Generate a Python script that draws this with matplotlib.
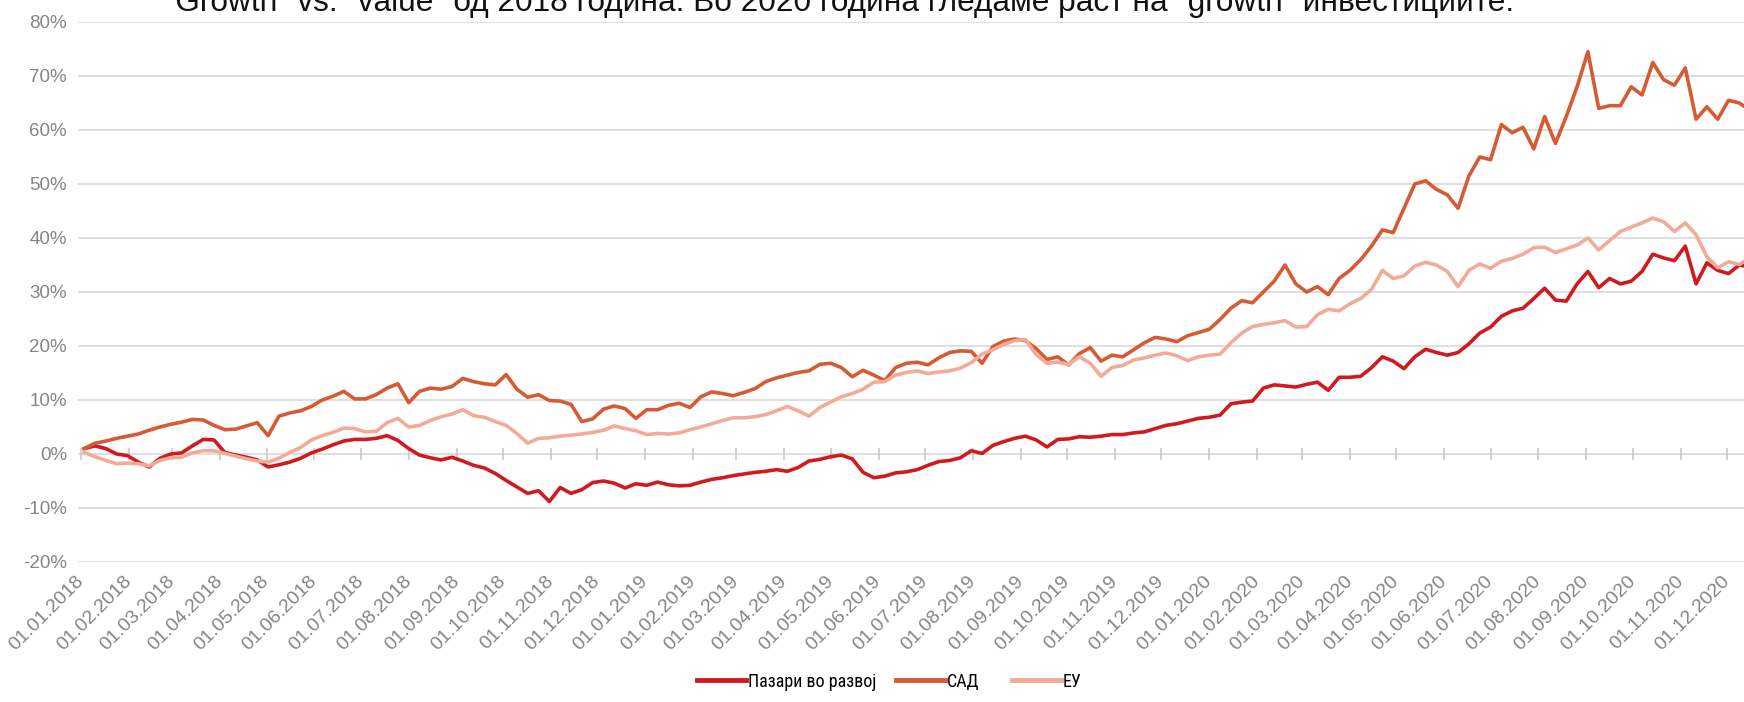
import matplotlib
matplotlib.use("Agg")
import matplotlib.pyplot as plt
from matplotlib import font_manager
from matplotlib.lines import Line2D
import numpy as np
import pandas as pd

plt.rcParams['font.family'] = ['Liberation Sans', 'DejaVu Sans']

title = '"Growth" vs. "value" од 2018 година. Во 2020 година гледаме раст на "growth" инвестициите.'
series_names = ['Пазари во развој', 'САД', 'ЕУ']
series_colors = ['#d11a1f', '#d65a33', '#f2ab97']

# weekly cumulative return (%) from the first week of 2018
first_week = '2018-01-03'
emerging = [
    1.0, 1.5, 1.0, 0.0, -0.3, -1.5, -2.4, -0.8, 0.0, 0.2,
    1.5, 2.7, 2.6, 0.3, -0.2, -0.6, -1.1, -2.4, -2.0, -1.5,
    -0.8, 0.2, 0.9, 1.7, 2.4, 2.7, 2.7, 2.9, 3.4, 2.5,
    1.0, -0.2, -0.7, -1.1, -0.6, -1.3, -2.1, -2.6, -3.6, -4.9,
    -6.1, -7.3, -6.8, -8.8, -6.2, -7.3, -6.6, -5.3, -5.0, -5.4,
    -6.3, -5.5, -5.8, -5.2, -5.7, -5.9, -5.8, -5.2, -4.7, -4.4,
    -4.0, -3.7, -3.4, -3.2, -2.9, -3.2, -2.5, -1.3, -1.0, -0.5,
    -0.2, -0.9, -3.4, -4.4, -4.1, -3.5, -3.3, -2.9, -2.1, -1.4,
    -1.2, -0.7, 0.6, 0.1, 1.6, 2.3, 2.9, 3.3, 2.6, 1.3,
    2.7, 2.8, 3.2, 3.1, 3.3, 3.6, 3.6, 3.9, 4.1, 4.7,
    5.3, 5.6, 6.1, 6.6, 6.8, 7.2, 9.3, 9.6, 9.8, 12.2,
    12.8, 12.6, 12.4, 12.9, 13.3, 11.8, 14.2, 14.2, 14.4, 16.0,
    18.0, 17.2, 15.8, 18.0, 19.4, 18.8, 18.3, 18.8, 20.4, 22.4,
    23.5, 25.5, 26.5, 27.0, 28.8, 30.7, 28.5, 28.3, 31.5, 33.8,
    30.8, 32.5, 31.5, 32.0, 33.8, 37.0, 36.3, 35.8, 38.5, 31.5,
    35.4, 34.0, 33.4, 35.0, 34.6,
]
usa = [
    1.0, 2.0, 2.4, 2.9, 3.3, 3.7, 4.4, 5.0, 5.5, 5.9,
    6.4, 6.3, 5.3, 4.5, 4.6, 5.2, 5.8, 3.4, 7.0, 7.6,
    8.0, 8.8, 10.0, 10.7, 11.6, 10.2, 10.2, 11.0, 12.2, 13.0,
    9.5, 11.6, 12.2, 12.0, 12.5, 14.0, 13.4, 13.0, 12.8, 14.7,
    12.0, 10.5, 11.0, 9.9, 9.8, 9.2, 6.0, 6.5, 8.3, 8.9,
    8.4, 6.6, 8.2, 8.2, 9.0, 9.4, 8.6, 10.6, 11.5, 11.2,
    10.8, 11.4, 12.1, 13.4, 14.1, 14.6, 15.1, 15.4, 16.6, 16.8,
    16.0, 14.3, 15.5, 14.6, 13.6, 16.0, 16.8, 17.0, 16.5, 17.8,
    18.8, 19.1, 19.0, 16.8, 19.9, 20.9, 21.3, 21.0, 19.5, 17.5,
    18.0, 16.5, 18.6, 19.7, 17.2, 18.3, 18.0, 19.3, 20.6, 21.6,
    21.3, 20.8, 21.9, 22.5, 23.1, 24.9, 27.0, 28.4, 28.0, 30.0,
    32.0, 35.0, 31.5, 30.0, 31.0, 29.5, 32.5, 34.0, 36.0, 38.5,
    41.5, 41.0, 45.5, 50.0, 50.6, 49.0, 48.0, 45.5, 51.5, 55.0,
    54.5, 61.0, 59.5, 60.5, 56.5, 62.5, 57.5, 62.5, 68.0, 74.5,
    64.0, 64.5, 64.5, 68.0, 66.5, 72.5, 69.3, 68.3, 71.5, 62.0,
    64.3, 62.0, 65.5, 65.0, 63.6,
]
europe = [
    0.3, -0.5, -1.2, -1.8, -1.7, -1.8, -2.2, -1.2, -0.7, -0.6,
    0.2, 0.6, 0.6, 0.1, -0.4, -0.9, -1.3, -1.5, -0.8, 0.3,
    1.2, 2.6, 3.4, 4.0, 4.8, 4.7, 4.1, 4.2, 5.8, 6.6,
    5.0, 5.3, 6.2, 6.9, 7.4, 8.2, 7.1, 6.8, 6.0, 5.3,
    3.8, 2.0, 2.9, 3.0, 3.3, 3.5, 3.7, 4.0, 4.4, 5.2,
    4.7, 4.3, 3.6, 3.8, 3.7, 3.9, 4.5, 5.0, 5.6, 6.2,
    6.7, 6.7, 6.9, 7.3, 8.0, 8.8, 8.0, 7.0, 8.6, 9.6,
    10.6, 11.2, 12.0, 13.3, 13.4, 14.6, 15.1, 15.4, 14.9, 15.2,
    15.4, 15.9, 16.9, 18.5, 19.3, 20.3, 21.0, 21.2, 18.4, 16.8,
    17.0, 16.6, 18.0, 16.8, 14.4, 16.0, 16.4, 17.4, 17.8, 18.3,
    18.7, 18.2, 17.3, 18.0, 18.3, 18.5, 20.6, 22.4, 23.6, 24.0,
    24.3, 24.7, 23.5, 23.6, 25.8, 26.8, 26.5, 27.8, 28.8, 30.5,
    34.0, 32.5, 33.0, 34.8, 35.5, 35.0, 33.8, 31.0, 34.0, 35.2,
    34.4, 35.7, 36.2, 37.0, 38.2, 38.3, 37.3, 38.0, 38.7, 40.0,
    37.8, 39.5, 41.2, 42.0, 42.8, 43.7, 43.0, 41.2, 42.8, 40.6,
    36.5, 34.5, 35.6, 35.1, 36.4,
]

month_ticks = pd.date_range('2018-01-01', '2020-12-01', freq='MS')
y_ticks = list(range(-20, 81, 10))

dates = pd.date_range(first_week, periods=len(usa), freq='7D')

W, H = 1744, 702
fig = plt.figure(figsize=(W / 100, H / 100), dpi=100)
ax = fig.add_axes([78 / W, 140 / H, 1 - 78 / W, 540 / H])

for values, name, color in zip([emerging, usa, europe], series_names, series_colors):
    ax.plot(dates, values, color=color, lw=2.6, solid_joinstyle='round', label=name, zorder=3)

ax.set_xlim(pd.Timestamp('2017-12-30'), pd.Timestamp('2020-12-12'))
ax.set_ylim(y_ticks[0], y_ticks[-1])
ax.set_yticks(y_ticks)
ax.set_yticklabels([f'{v}%' for v in y_ticks])
ax.yaxis.grid(True, color='#dcdcdc', lw=1.3)
ax.set_axisbelow(True)
for s in ax.spines.values():
    s.set_visible(False)

ax.set_xticks(month_ticks)
ax.set_xticklabels([d.strftime('%d.%m.%Y') for d in month_ticks], rotation=45,
                   ha='right', va='center', rotation_mode='anchor')
ax.tick_params(axis='x', length=0, pad=12, labelsize=14, labelcolor='#858585')
ax.tick_params(axis='y', length=0, pad=8, labelsize=13.5, labelcolor='#858585')

# month marks along the zero line
ax.plot(month_ticks, np.zeros(len(month_ticks)), ls='none', marker='|', ms=8, mew=1.2,
        color='#c8c8c8', zorder=2)

# heading, partly above the top edge
t = fig.text(164 / W, 1 - 11 / H, title, fontsize=20, ha='left', va='baseline', color='#111111')
fig.canvas.draw()
w = t.get_window_extent().width
t.set_fontsize(20 * 1347 / w)

# legend font: a narrow face when one is available
names = {f.name for f in font_manager.fontManager.ttflist}
legend_prop = {'family': ['Liberation Sans', 'DejaVu Sans'], 'size': 13.5}
for cand in ['Liberation Sans Narrow', 'Roboto Condensed', 'Open Sans Condensed']:
    if cand in names:
        legend_prop = {'family': [cand, 'DejaVu Sans'], 'size': 13.5}
        break
else:
    condensed = [f for f in font_manager.fontManager.ttflist
                 if f.name == 'DejaVu Sans' and str(f.stretch) in ('condensed', 'semi-condensed', '600')]
    if condensed:
        legend_prop = {'family': ['DejaVu Sans'], 'stretch': 'condensed', 'size': 12.5}

legend_x = [697, 896, 1012]
legends = []
for name, color, x in zip(series_names, series_colors, legend_x):
    h = Line2D([], [], color=color, lw=3.5)
    fs_px = legend_prop['size'] * 100 / 72
    leg = fig.legend([h], [name], loc='center left', bbox_to_anchor=(x / W, 1 - 682 / H),
                     frameon=False, borderpad=0, borderaxespad=0, handlelength=49 / fs_px,
                     handletextpad=0.1, prop=dict(legend_prop))
    legends.append(leg)

# keep the first label to its printed width
fig.canvas.draw()
tw = legends[0].get_texts()[0].get_window_extent().width
if tw > 130:
    new_size = legend_prop['size'] * 128 / tw
    for leg in legends:
        for txt in leg.get_texts():
            txt.set_fontsize(new_size)

fig.savefig('out.png', dpi=100)
